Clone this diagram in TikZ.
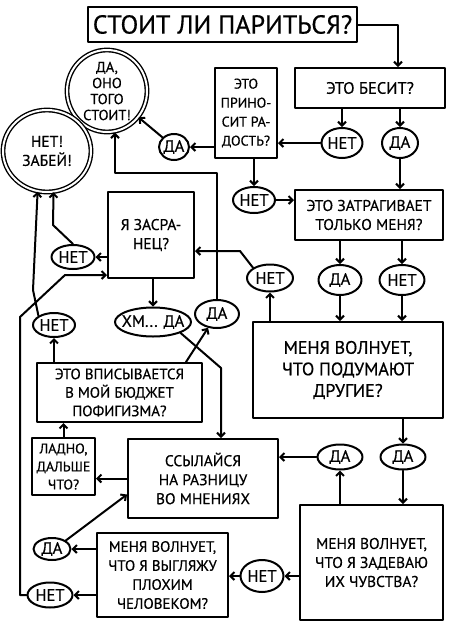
\documentclass[tikz,border=0pt]{standalone}
\usepackage{fontspec}
\setmainfont{PT Sans}[FakeBold=0.5]
\usetikzlibrary{arrows.meta, shapes.geometric}
\tikzset{every node/.style={font=\fontsize{15.5}{19}\selectfont},
         box/.style={draw,line width=2pt,align=center,inner sep=1pt},
         ans/.style={draw,ellipse,line width=2pt,inner xsep=-5pt,inner ysep=0pt,minimum width=43pt,minimum height=28pt,font=\fontsize{16.5}{19}\selectfont},
         final/.style={draw,ellipse,double,double distance=2pt,line width=1.4pt,align=center,inner sep=-6pt},
         >={Straight Barb[length=4pt,width=8pt]},
        }

\begin{document}
\begin{tikzpicture}[x=1pt,y=-1pt,line width=2pt,line cap=round,line join=round]
        \useasboundingbox(0,0)rectangle(450,630);
        \node[box,minimum width=269pt,minimum height=35pt,font=\fontsize{26}{30}\selectfont](title)at(222.5,24.5){СТОИТ ЛИ ПАРИТЬСЯ?};
        \node[box,minimum width=150pt,minimum height=40pt,font=\fontsize{16.5}{19}\selectfont](besit)at(370,88){ЭТО БЕСИТ?};
        \node[box,minimum width=62pt,minimum height=90pt,font=\fontsize{14}{19}\selectfont](radost)at(246,113){ЭТО\\ПРИНО-\\СИТ РА-\\ДОСТЬ?};
        \node[final,minimum width=80pt,minimum height=82pt,font=\fontsize{14.5}{16}\selectfont](stoit)at(107,91){ДА,\\ОНО\\ТОГО\\СТОИТ!};
        \node[final,minimum width=88pt,minimum height=82pt](zabey)at(47,151){НЕТ!\\ЗАБЕЙ!};
        \node[ans,minimum width=41pt,minimum height=30pt](net1)at(342,143){НЕТ};
        \node[ans,minimum width=36pt,minimum height=30pt](da1)at(400,143){ДА};
        \node[ans,minimum width=30pt,minimum height=26pt](da2)at(174,147){ДА};
        \node[ans,minimum width=42pt,minimum height=26pt](net2)at(254,200){НЕТ};
        \node[box,minimum width=148pt,minimum height=50pt](only)at(369,215){ЭТО ЗАТРАГИВАЕТ\\ТОЛЬКО МЕНЯ?};
        \node[ans,minimum height=30pt](da3)at(340,280){ДА};
        \node[ans,minimum width=45pt,minimum height=30pt](net3)at(402,280){НЕТ};
        \node[ans,minimum width=46pt,minimum height=27pt](net4)at(270,278){НЕТ};
        \node[box,minimum width=190pt,minimum height=96pt,font=\fontsize{18}{21.5}\selectfont](others)at(348,370){МЕНЯ ВОЛНУЕТ,\\ЧТО ПОДУМАЮТ\\ДРУГИЕ?};
        \node[box,minimum width=86pt,minimum height=86pt](jerk)at(151,235){Я ЗАСРА-\\НЕЦ?};
        \node[ans,minimum height=24pt](net5)at(73,257){НЕТ};
        \node[ans,minimum width=76pt,minimum height=29pt,inner xsep=-7pt](hm)at(153,322){ХМ... ДА};
        \node[ans,minimum width=44pt](da4)at(217,314){ДА};
        \node[box,minimum width=165pt,minimum height=59pt,font=\fontsize{15}{18.5}\selectfont](budget)at(119.5,392.5){ЭТО ВПИСЫВАЕТСЯ\\В МОЙ БЮДЖЕТ\\ПОФИГИЗМА?};
        \node[ans,minimum width=42pt,minimum height=24pt](net6)at(54,325){НЕТ};
        \node[box,minimum width=63pt,minimum height=57pt,font=\fontsize{14}{18}\selectfont](next)at(63.5,466.5){ЛАДНО,\\ДАЛЬШЕ\\ЧТО?};
        \node[box,minimum width=150pt,minimum height=79pt](refer)at(203,478.5){ССЫЛАЙСЯ\\НА РАЗНИЦУ\\ВО МНЕНИЯХ};
        \node[ans,minimum width=45pt,minimum height=25pt](da5)at(340,457){ДА};
        \node[ans,minimum width=45pt,minimum height=25pt](da6)at(403,457){ДА};
        \node[box,minimum width=143pt,minimum height=115pt](feel)at(371.5,562.5){МЕНЯ ВОЛНУЕТ,\\ЧТО Я ЗАДЕВАЮ\\ИХ ЧУВСТВА?};
        \node[ans,minimum height=32pt](net7)at(262,576){НЕТ};
        \node[box,minimum width=131pt,minimum height=84pt,font=\fontsize{15}{19}\selectfont](bad)at(162.5,575){МЕНЯ ВОЛНУЕТ,\\ЧТО Я ВЫГЛЯЖУ\\ПЛОХИМ\\ЧЕЛОВЕКОМ?};
        \node[ans,minimum width=37pt,minimum height=22pt](da7)at(52,549){ДА};
        \node[ans,minimum width=45pt,minimum height=25pt](net8)at(50,595){НЕТ};

        \coordinate(j1)at(240,251);
        \coordinate(z1)at(53,225);
        \coordinate(h1)at(221,368);
        \coordinate(s1)at(115,173);
        \coordinate(z2)at(33,290);
        \coordinate(b1)at(20,317);
        \coordinate(b2)at(65,275);

        \draw[->](title.east)-|([xshift=28pt]besit.north);
        \draw[->](besit.south-|net1)--(net1);
        \draw[->](besit.south-|da1)--(da1);
        \draw[->](da1)--(da1|-only.north);
        \draw[->](net1)--(net1-|radost.east);
        \draw[->](radost.west|-da2)--(da2);
        \draw[->](da2)--(stoit);
        \draw[->](radost.south-|net2)--(net2);
        \draw[->](net2)--(net2-|only.west);
        \draw[->](only.south-|da3)--(da3);
        \draw[->](only.south-|net3)--(net3);
        \draw[->](da3)--(da3|-others.north);
        \draw[->](net3)--(net3|-others.north);
        \draw[->](others.north-|net4)--(net4);
        \draw[->](net4.north west)--(j1)--(j1-|jerk.east);
        \draw[->](jerk.west|-net5)--(net5);
        \draw[->](net5.north)--(z1)--(zabey.279);
        \draw[->](jerk.south-|hm)--(hm);
        \draw[->](hm.south east)--(h1)--(h1|-refer.north);
        \draw[->]([xshift=-17pt]budget.north east)--(da4);
        \draw[->](da4.north)|-(s1)--(s1|-stoit.south);
        \draw[->](budget.north-|net6)--(net6);
        \draw[->](net6.north west)--(z2)--(zabey.257);
        \draw[->](next.north)--(next.north|-budget.south);
        \draw[->](refer.west)--(refer.west-|next.east);
        \draw[->](da7.north east)--([yshift=-16pt]refer.west);
        \draw[->](bad.west|-da7)--(da7);
        \draw[->](bad.west|-net8)--(net8);
        \draw[->](net8.west)-|(b1)--(b2)--(b2-|jerk.west);
        \draw[->](others.south-|da6)--(da6);
        \draw[->](da6)--(da6|-feel.north);
        \draw[->](feel.north-|da5)--(da5);
        \draw[->](da5)--(da5-|refer.east);
        \draw[->](feel.west|-net7)--(net7);
        \draw[->](net7)--(net7-|bad.east);
    \end{tikzpicture}
\end{document}
